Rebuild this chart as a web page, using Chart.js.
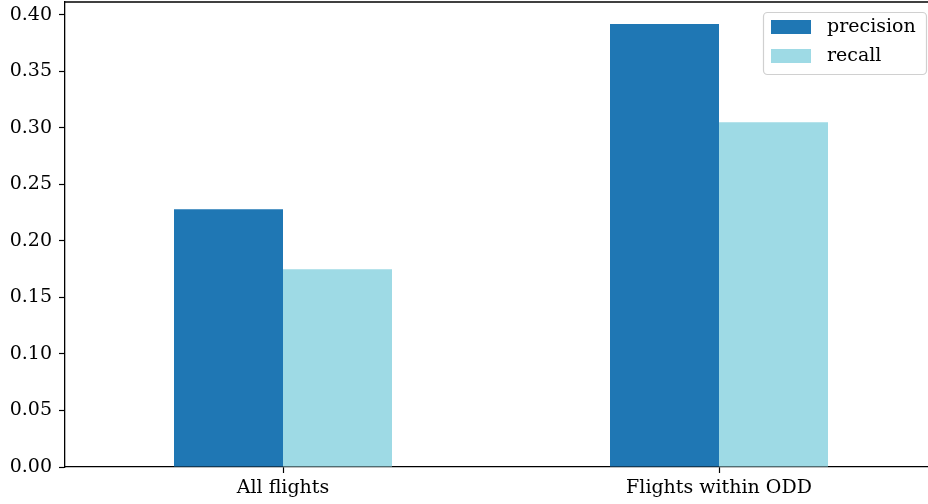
<!DOCTYPE html>
<html>
<head>
<meta charset="utf-8">
<script src="https://cdn.jsdelivr.net/npm/chart.js@4/dist/chart.umd.min.js"></script>
<style>
    html, body { margin: 0; padding: 0; background: #ffffff; overflow: hidden; }
    #barChart { display: block; }
</style>
</head>
<body>
<canvas id="barChart" width="928" height="504"></canvas>
<script>
const categories = ["All flights" , "Flights within ODD"];
const precision = [0.228 , 0.392];
const recall = [0.175 , 0.305];
const yTicks = [0.00 , 0.05 , 0.10 , 0.15 , 0.20 , 0.25 , 0.30 , 0.35 , 0.40];

const colors = ["#1f77b4" , "#9edae5"];
const serif = "'DejaVu Serif', serif";
const plotRight = 937;   // the axes box runs a little past the canvas edge

// keep the plot area exactly where the axes are sized, no label overhang padding
function noOverhang(scale) {
    scale.paddingTop = 0;
    scale.paddingBottom = 0;
    scale.paddingLeft = 0;
    scale.paddingRight = 0;
}

// stretch the x axis past the right edge before the bars are placed
const widenPlugin = {
    id: "widen" ,
    afterLayout(chart) {
        const x = chart.scales.x;
        x.right = plotRight;
        x.width = plotRight - x.left;
        x.configure();
        chart.chartArea.right = plotRight;
        chart.chartArea.width = plotRight - chart.chartArea.left;
    }
};

// top spine and the boxed legend in the upper right
const framePlugin = {
    id: "frame" ,
    afterDatasetsDraw(chart) {
        const { ctx , chartArea: a } = chart;
        ctx.save();
        ctx.strokeStyle = "#000000";
        ctx.lineWidth = 1.3;
        ctx.beginPath();
        ctx.moveTo(a.left , a.top);
        ctx.lineTo(chart.width , a.top);
        ctx.stroke();

        const x = 763 , y = 12 , w = 163 , h = 62 , r = 4;
        ctx.beginPath();
        ctx.roundRect(x + 0.5 , y + 0.5 , w , h , r);
        ctx.fillStyle = "rgba(255,255,255,0.8)";
        ctx.fill();
        ctx.strokeStyle = "#d0d0d0";
        ctx.lineWidth = 1.2;
        ctx.stroke();

        ctx.font = "19px " + serif;
        ctx.textBaseline = "middle";
        chart.data.datasets.forEach((ds , i) => {
            const rowY = 20 + i * 29;
            ctx.fillStyle = ds.backgroundColor;
            ctx.fillRect(771 , rowY , 40 , 14);
            ctx.fillStyle = "#000000";
            ctx.fillText(ds.label , 827 , rowY + 7);
        });
        ctx.restore();
    }
};

new Chart(document.getElementById("barChart") , {
    type: "bar" ,
    data: {
        labels: categories ,
        datasets: [
            { label: "precision" , data: precision , backgroundColor: colors[0] } ,
            { label: "recall" , data: recall , backgroundColor: colors[1] }
        ]
    } ,
    options: {
        responsive: false ,
        animation: false ,
        devicePixelRatio: 1 ,
        layout: { autoPadding: false , padding: { top: 2 , right: 0 , left: 0 , bottom: 0 } } ,
        datasets: {
            bar: { categoryPercentage: 0.5 , barPercentage: 1.0 , borderWidth: 0 }
        } ,
        plugins: {
            legend: { display: false } ,
            tooltip: { enabled: false }
        } ,
        scales: {
            x: {
                offset: true ,
                grid: {
                    display: true ,
                    drawOnChartArea: false ,
                    drawTicks: true ,
                    tickLength: 6 ,
                    tickWidth: 1.2 ,
                    color: "#000000" ,
                    offset: false
                } ,
                border: { display: true , color: "#000000" , width: 1.3 } ,
                ticks: {
                    color: "#000000" ,
                    padding: 4 ,
                    font: { family: serif , size: 19 }
                } ,
                afterFit(scale) {
                    scale.height = 37;
                    noOverhang(scale);
                }
            } ,
            y: {
                min: 0 ,
                max: 0.4115 ,
                afterBuildTicks(scale) {
                    scale.ticks = yTicks.map(v => ({ value: v }));
                } ,
                grid: {
                    display: true ,
                    drawOnChartArea: false ,
                    drawTicks: true ,
                    tickLength: 6 ,
                    tickWidth: 1.2 ,
                    color: "#000000"
                } ,
                border: { display: true , color: "#000000" , width: 1.3 } ,
                ticks: {
                    color: "#000000" ,
                    padding: 7 ,
                    font: { family: serif , size: 19 } ,
                    callback: value => Number(value).toFixed(2)
                } ,
                afterFit(scale) {
                    scale.width = 65;
                    noOverhang(scale);
                }
            }
        }
    } ,
    plugins: [widenPlugin , framePlugin]
});
</script>
</body>
</html>
